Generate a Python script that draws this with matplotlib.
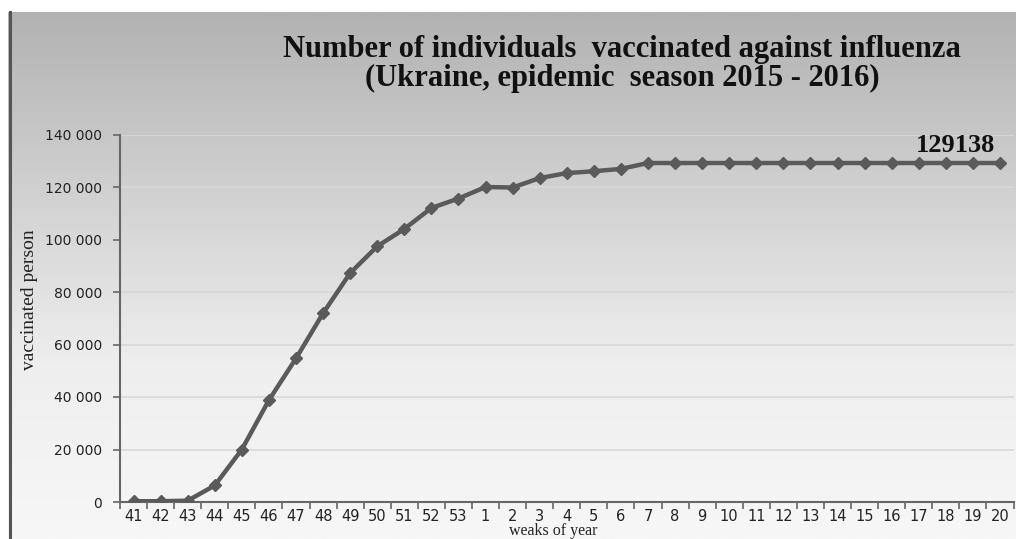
import numpy as np
import matplotlib
matplotlib.use("Agg")
import matplotlib.pyplot as plt
from matplotlib.colors import LinearSegmentedColormap

weeks = ["41", "42", "43", "44", "45", "46", "47", "48", "49", "50", "51", "52", "53",
         "1", "2", "3", "4", "5", "6", "7", "8", "9", "10", "11", "12", "13", "14",
         "15", "16", "17", "18", "19", "20"]
vaccinated = [300, 300, 500, 6300, 20000, 38800, 54700, 71900, 87200, 97400, 104000,
              112000, 115600, 120000, 119800, 123400, 125300, 126000, 126900, 129138,
              129138, 129138, 129138, 129138, 129138, 129138, 129138, 129138, 129138,
              129138, 129138, 129138, 129138]
yticks = [0, 20000, 40000, 60000, 80000, 100000, 120000, 140000]
ytick_labels = ["0", "20 000", "40 000", "60 000", "80 000", "100 000", "120 000", "140 000"]
title_text = "Number of individuals  vaccinated against influenza\n(Ukraine, epidemic  season 2015 - 2016)"
final_label = "129138"

W, H = 1016, 539
fig = plt.figure(figsize=(W / 100, H / 100), dpi=100)
fig.patch.set_facecolor("white")

# gradient background
bg = fig.add_axes([8 / W, 0, 1 - 8 / W, (H - 12) / H])
grad = np.linspace(0, 1, 256).reshape(-1, 1)
cmap = LinearSegmentedColormap.from_list("g", ["#f7f7f7", "#eeeeee", "#d0d0d0", "#b2b2b2"])
bg.imshow(grad, aspect="auto", cmap=cmap, origin="lower", extent=[0, 1, 0, 1])
bg.set_xlim(0, 1)
bg.set_ylim(0, 1)
bg.axis("off")
bg.plot([0.0015, 0.0015], [0, 1], color="#555555", lw=2.2, transform=bg.transAxes, clip_on=False)

ax = fig.add_axes([120 / W, (H - 502) / H, (1013.5 - 120) / W, (502 - 134.5) / H])
ax.set_facecolor("none")
x = np.arange(len(weeks))
ax.plot(x, vaccinated, color="#5a5a5a", lw=3.2, marker="D", markersize=6.5,
        markerfacecolor="#5a5a5a", markeredgecolor="#5a5a5a", zorder=3)
ax.set_xlim(-0.5, len(weeks) - 0.5)
ax.set_ylim(0, 140000)
ax.set_yticks(yticks)
ax.set_yticklabels(ytick_labels)
ax.set_xticks(x)
ax.set_xticklabels(weeks)
ax.set_xticks(np.arange(-0.5, len(weeks), 1), minor=True)
ax.tick_params(axis="x", which="major", length=0, pad=5, labelsize=10.5, colors="#222222")
ax.tick_params(axis="x", which="minor", length=5, width=1.2, color="#666666")
ax.tick_params(axis="y", length=5, width=1.2, color="#666666", labelsize=10, labelcolor="#222222", pad=8)
for lab in ax.get_xticklabels() + ax.get_yticklabels():
    lab.set_fontfamily("DejaVu Sans")
ax.grid(axis="y", color="#d8d8d8", lw=1.2)
ax.set_axisbelow(True)
for s in ["top", "right"]:
    ax.spines[s].set_visible(False)
ax.spines["left"].set_color("#666666")
ax.spines["bottom"].set_color("#666666")
ax.spines["left"].set_linewidth(1.5)
ax.spines["bottom"].set_linewidth(1.5)

ax.annotate(final_label, xy=(x[-1], vaccinated[-1]), xytext=(995 / W, 1 - 145 / H),
            textcoords="figure fraction", ha="right", va="center", fontsize=19, fontweight="bold",
            family="Liberation Serif", color="#111111")

fig.text(622 / W, 1 - 64 / H, title_text, ha="center", va="center", fontsize=22,
         fontweight="bold", family="Liberation Serif", color="#111111", linespacing=1.02)
fig.text(30 / W, 1 - 300 / H, "vaccinated person", rotation=90, ha="center", va="center",
         fontsize=14, family="Liberation Serif", color="#222222")
fig.text(553 / W, 0, "weaks of year", ha="center", va="bottom",
         fontsize=11.5, family="Liberation Serif", color="#222222")

fig.savefig("out.png", dpi=100)
